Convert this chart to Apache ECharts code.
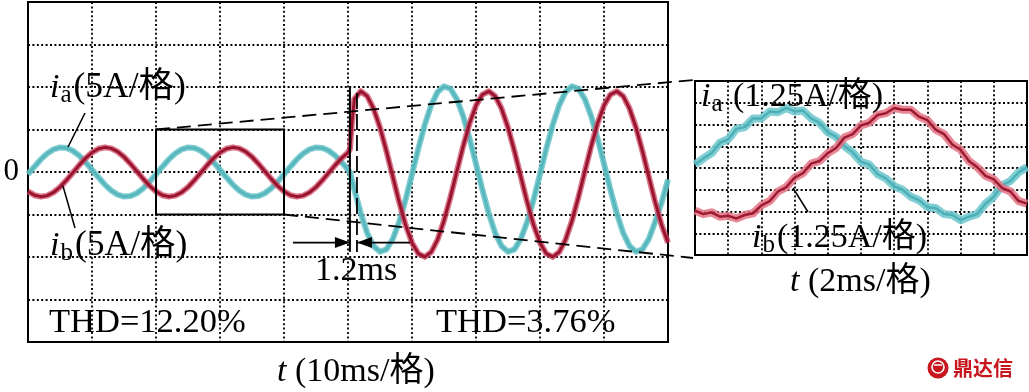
<!DOCTYPE html>
<html><head><meta charset="utf-8">
<script src="https://cdn.jsdelivr.net/npm/echarts@6/dist/echarts.min.js"></script>
<style>html,body{margin:0;padding:0;background:#fff}#c{width:1029px;height:392px}</style>
</head><body><div id="c"></div>
<script>
// ---- main scope trace (t in ms, current in A; 10 ms/div, 5 A/div) ----
const tMain = [0,1,2,3,4,5,6,7,8,9,10,11,12,13,14,15,16,17,18,19,20,21,22,23,24,25,26,27,28,29,30,31,32,33,34,35,36,37,38,39,40,41,42,43,44,45,46,47,48,49,50,50.3,50.6,51,52,53,54,55,56,57,58,59,60,61,62,63,64,65,66,67,68,69,70,71,72,73,74,75,76,77,78,79,80,81,82,83,84,85,86,87,88,89,90,91,92,93,94,95,96,97,98,99,100];
const iaMain = [-0.27,0.63,1.48,2.18,2.66,2.89,2.83,2.50,1.92,1.15,0.27,-0.63,-1.48,-2.18,-2.66,-2.89,-2.83,-2.50,-1.92,-1.15,
  -0.27,0.63,1.48,2.18,2.66,2.89,2.83,2.50,1.92,1.15,0.27,-0.63,-1.48,-2.18,-2.66,-2.89,-2.83,-2.50,-1.92,-1.15,
  -0.27,0.63,1.48,2.18,2.66,2.89,2.83,2.50,1.92,1.15,0.27,0.0,-0.87,
  -2.08,-4.87,-7.17,-8.72,-9.38,-9.10,-7.88,-5.86,-3.24,-0.26,2.78,5.58,7.87,9.42,10.08,9.80,8.58,6.56,3.94,0.96,
  -2.08,-4.87,-7.17,-8.72,-9.38,-9.10,-7.88,-5.86,-3.24,-0.26,2.78,5.58,7.87,9.42,10.08,9.80,8.58,6.56,3.94,0.96,
  -2.08,-4.87,-7.17,-8.72,-9.38,-9.10,-7.88,-5.86,-3.6,-0.9];
const ibMain = [-2.29,-2.73,-2.90,-2.78,-2.40,-1.78,-0.98,-0.09,0.81,1.63,2.29,2.73,2.90,2.78,2.40,1.78,0.98,0.09,-0.81,-1.63,
  -2.29,-2.73,-2.90,-2.78,-2.40,-1.78,-0.98,-0.09,0.81,1.63,2.29,2.73,2.90,2.78,2.40,1.78,0.98,0.09,-0.81,-1.63,
  -2.29,-2.73,-2.90,-2.78,-2.40,-1.78,-0.98,-0.09,0.81,1.63,2.29,2.7,5.6,
  8.6,9.50,8.92,7.45,5.23,2.47,-0.55,-3.55,-6.23,-8.31,-9.61,-9.99,-9.42,-7.95,-5.73,-2.97,0.05,3.05,5.73,7.81,
  9.11,9.50,8.92,7.45,5.23,2.47,-0.55,-3.55,-6.23,-8.31,-9.61,-9.99,-9.42,-7.95,-5.73,-2.97,0.05,3.05,5.73,7.81,
  9.11,9.50,8.92,7.45,5.23,2.47,-0.55,-3.55,-6.23,-8.31];

// ---- zoomed inset (2 ms/div, 1.25 A/div) ----
const tZoom = [0,0.5,1,1.5,2,2.5,3,3.5,4,4.5,5,5.5,6,6.5,7,7.5,8,8.5,9,9.5,10,10.5,11,11.5,12,12.5,13,13.5,14,14.5,15,15.5,16,16.5,17,17.5,18,18.5,19,19.5,20];
const iaZoom = [0.2,0.55,0.85,1.45,1.65,2.25,2.35,2.85,2.85,3.25,3.2,3.45,3.25,3.3,2.85,2.6,2.05,1.8,1.25,0.9,0.35,0.2,-0.35,-0.6,-1.05,-1.25,-1.65,-1.85,-2.25,-2.3,-2.65,-2.7,-3.0,-2.8,-2.65,-2.05,-1.65,-1.0,-0.75,-0.25,0.05];
const ibZoom = [-2.45,-2.65,-2.55,-2.8,-2.75,-2.9,-2.7,-2.6,-2.15,-1.9,-1.35,-1.1,-0.55,-0.3,0.25,0.4,0.85,1.15,1.75,1.95,2.45,2.6,3.05,3.15,3.45,3.35,3.35,2.95,2.75,2.2,1.95,1.35,1.05,0.4,0.05,-0.45,-0.65,-1.15,-1.35,-1.9,-2.05];

// ---- texts ----
const yTickLabels = {0: '0'};
const thdBefore = 'THD=12.20%';
const thdAfter = 'THD=3.76%';
const delayText = '1.2ms';
const mainTimeUnit = ' (10ms/格)';
const zoomTimeUnit = ' (2ms/格)';
const mainScale = '(5A/格)';
const zoomScale = '(1.25A/格)';
const logoText = '鼎达信';

const SERIF = "'Liberation Serif','Times New Roman','Noto Sans CJK SC',serif";
const chart = echarts.init(document.getElementById('c'), null, {renderer: 'canvas'});
const dot = {type: [2, 2.4], color: '#000', width: 1.8};
const pairs = (t, v) => t.map((x, i) => [x, v[i]]);

function xAx(g, max, iv) {
  return {type: 'value', gridIndex: g, min: 0, max: max, interval: iv,
    axisLine: {show: false}, axisTick: {show: false}, axisLabel: {show: false},
    splitLine: {show: true, lineStyle: dot}};
}
function yAx(g, mn, mx, iv, lbl) {
  return {type: 'value', gridIndex: g, min: mn, max: mx, interval: iv,
    axisLine: {show: false}, axisTick: {show: false},
    axisLabel: lbl ? {show: true, formatter: v => (yTickLabels[v] !== undefined ? yTickLabels[v] : ''),
      fontFamily: SERIF, fontSize: 31, color: '#000', margin: 9} : {show: false},
    splitLine: {show: true, lineStyle: dot}};
}
function trace(xi, data, color, width, z) {
  return {type: 'line', xAxisIndex: xi, yAxisIndex: xi, data: data, symbol: 'none', silent: true,
    lineStyle: {color: color, width: width, join: 'round'}, z: z, animation: false};
}

chart.setOption({
  animation: false,
  backgroundColor: '#fff',
  grid: [
    {left: 28, top: 2, width: 640, height: 340, show: true, borderColor: '#000', borderWidth: 2, containLabel: false, outerBoundsMode: 'none'},
    {left: 695, top: 81, width: 332, height: 174, show: true, borderColor: '#000', borderWidth: 2, containLabel: false, outerBoundsMode: 'none'}
  ],
  xAxis: [xAx(0, 100, 10), xAx(1, 20, 2)],
  yAxis: [yAx(0, -20, 20, 5, true), yAx(1, -5, 5, 1.25, false)],
  series: [
    trace(0, pairs(tMain, iaMain), 'rgba(105,196,201,0.85)', 6, 2),
    trace(0, pairs(tMain, iaMain), '#58b7bd', 3, 3),
    trace(0, pairs(tMain, ibMain), 'rgba(205,75,100,0.75)', 6, 4),
    trace(0, pairs(tMain, ibMain), '#9a1430', 3, 5),
    trace(1, pairs(tZoom, iaZoom), 'rgba(115,202,207,0.9)', 8, 2),
    trace(1, pairs(tZoom, iaZoom), '#4eb0b7', 2.5, 3),
    trace(1, pairs(tZoom, ibZoom), 'rgba(228,115,133,0.85)', 8, 4),
    trace(1, pairs(tZoom, ibZoom), '#9e1a33', 2.5, 5)
  ]
});

const P = (g, x, y) => chart.convertToPixel({gridIndex: g}, [x, y]);
const g = [];
function line(a, b, w, dash, z) {
  g.push({type: 'line', silent: true, z: z || 50, shape: {x1: a[0], y1: a[1], x2: b[0], y2: b[1]},
    style: {stroke: '#000', lineWidth: w, lineDash: dash || null, fill: null}});
}
function text(x, y, t, rich, size, extra) {
  g.push({type: 'text', silent: true, z: 60, x: x, y: y,
    style: Object.assign({text: t, rich: rich, fontFamily: SERIF, fontSize: size, fill: '#000',
      textAlign: 'left', align: 'left', textVerticalAlign: 'middle', verticalAlign: 'middle'}, extra || {})});
}
// zoom box and connectors
const b1 = P(0, 20, 5), b2 = P(0, 40, -5);
g.push({type: 'rect', silent: true, z: 50, shape: {x: b1[0], y: b1[1], width: b2[0] - b1[0], height: b2[1] - b1[1]},
  style: {stroke: '#000', lineWidth: 2, fill: null}});
const z1 = P(1, 0, 5), z2 = P(1, 0, -5);
line(b1, [z1[0] - 2, z1[1] - 1], 1.8, [14, 7]);
line([b2[0], b2[1]], [z2[0] - 2, z2[1] + 3], 1.8, [14, 7]);
// transition marks
line(P(0, 50.3, 10), P(0, 50.3, -9.4), 2);
line(P(0, 51.4, 9.3), P(0, 51.4, -9.4), 1.8, [16, 5]);
const la = P(0, 41.4, -8.3), lb = P(0, 50.3, -8.3), ra = P(0, 59.7, -8.3), rb = P(0, 51.4, -8.3);
line(la, lb, 1.8);
line(ra, rb, 1.8);
g.push({type: 'polygon', silent: true, z: 51, shape: {points: [[lb[0], lb[1]], [lb[0] - 15, lb[1] - 5.5], [lb[0] - 15, lb[1] + 5.5]]}, style: {fill: '#000'}});
g.push({type: 'polygon', silent: true, z: 51, shape: {points: [[rb[0], rb[1]], [rb[0] + 15, rb[1] - 5.5], [rb[0] + 15, rb[1] + 5.5]]}, style: {fill: '#000'}});
// leader lines
line([85, 113], [68, 147], 1.5);
line([63, 186], [75, 228], 1.5);
line([793, 188], [808, 212], 1.5);

const rich = {
  i: {fontFamily: SERIF, fontSize: 34, fontStyle: 'italic', lineHeight: 40, fill: '#000'},
  s: {fontFamily: SERIF, fontSize: 25, lineHeight: 25, padding: [15, 2, 0, 1], fill: '#000'},
  n: {fontFamily: SERIF, fontSize: 34, lineHeight: 40, fill: '#000'},
  m: {fontFamily: SERIF, fontSize: 35.5, lineHeight: 40, fill: '#000'}
};
text(50, 88, '{i|i}{s|a}{m|' + mainScale + '}', rich, 34);
text(50, 246, '{i|i}{s|b}{m|' + mainScale + '}', rich, 34);
text(701, 97, '{i|i}{s|a}{n| ' + zoomScale + '}', rich, 34);
text(752, 238, '{i|i}{s|b}{n|' + zoomScale + '}', rich, 34);
text(277, 372, '{i|t}{n|' + mainTimeUnit + '}', rich, 34);
text(790, 282, '{i|t}{n|' + zoomTimeUnit + '}', rich, 34);
text(49, 323, thdBefore, null, 34.5);
text(436, 323, thdAfter, null, 34.5);
text(315, 271, delayText, null, 34);

// watermark logo
g.push({type: 'circle', silent: true, z: 60, shape: {cx: 938, cy: 368, r: 10.5}, style: {fill: '#c8161e'}});
g.push({type: 'circle', silent: true, z: 61, shape: {cx: 938, cy: 367, r: 6}, style: {fill: null, stroke: '#fff', lineWidth: 1.6}});
g.push({type: 'line', silent: true, z: 62, shape: {x1: 934, y1: 365, x2: 942, y2: 365}, style: {stroke: '#fff', lineWidth: 1.5}});
text(953, 368, logoText, null, 20, {fontFamily: "'Noto Sans CJK SC',sans-serif", fontWeight: 'bold', fill: '#c8161e'});

chart.setOption({graphic: g});
</script></body></html>
